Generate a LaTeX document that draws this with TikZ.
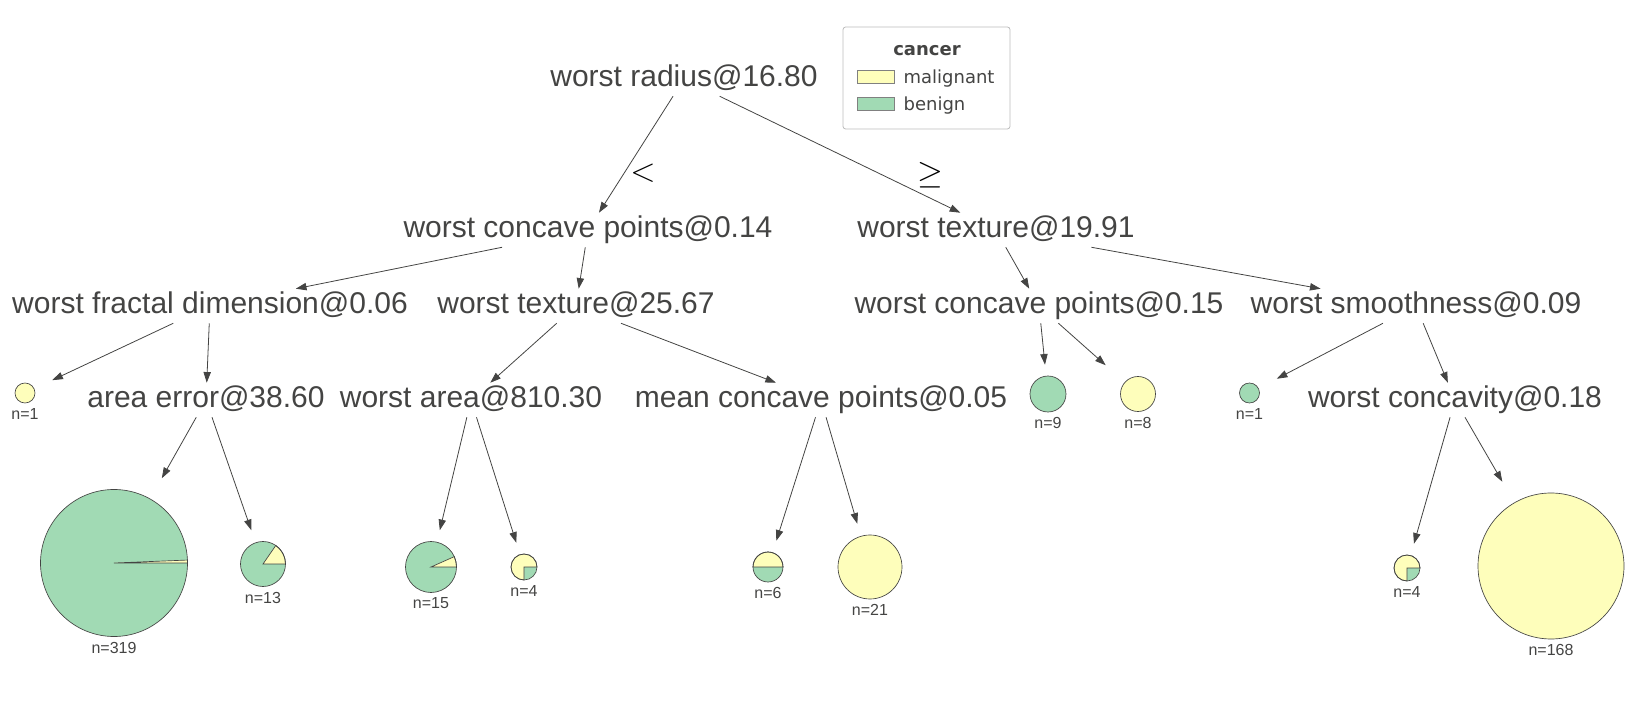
\documentclass[tikz,border=0pt]{standalone}
\usepackage{fontspec}
\setmainfont{Liberation Sans}
\newfontfamily\legendfont{DejaVu Sans}
\usepackage{xcolor}
\usepackage{tikz}
\usetikzlibrary{arrows.meta, positioning}

\definecolor{malig}{HTML}{FEFEBB}
\definecolor{benign}{HTML}{A1DAB4}
\definecolor{inkgray}{HTML}{444443}
\definecolor{framegray}{HTML}{BDBDBD}

\tikzset{
  splitnode/.style={font=\fontsize{22.5}{27}\selectfont, text=inkgray, anchor=base,
    text height=16.5pt, text depth=4.5pt, inner xsep=2pt, inner ysep=2.25pt},
  arrow/.style={draw=inkgray, line width=0.6pt, -{Triangle[length=8pt, width=5.5pt]}},
  leafbox/.style={draw=none, inner sep=0pt},
  pieline/.style={draw=inkgray, line width=0.5pt},
  nlabel/.style={font=\fontsize{12}{14}\selectfont, text=inkgray, inner sep=1pt},
  rellabel/.style={font=\fontsize{23}{27}\selectfont, inner sep=0pt},
  swatch/.style={draw=gray, line width=0.5pt, inner sep=0pt, minimum width=27.75pt, minimum height=9.75pt},
  legtext/.style={font=\legendfont\fontsize{13.5}{16}\selectfont, text=inkgray, inner sep=0pt}
}

% leaf: name, position, radius, base colour, yellow angle, count
\newcommand{\leaf}[6]{%
  \node[leafbox, minimum width={(2*#3+34)*0.75pt}, minimum height={(2*#3+22)*0.75pt}] (#1) at #2 {};
  \begin{scope}[shift={(#1.center)}, yscale=-1]
    \fill[#4] (0,0) circle[radius=#3];
    \ifdim#5pt>0pt
      \filldraw[fill=malig, pieline] (0,0) -- (#3,0) arc[start angle=0, end angle=#5, radius=#3] -- cycle;
    \fi
    \draw[pieline] (0,0) circle[radius=#3];
  \end{scope}
  \node[nlabel] (#1-n) at ([yshift={-(#3+11)*0.75pt}]#1.center) {#6};
}

\begin{document}
\begin{tikzpicture}[x=0.75pt, y=-0.75pt]
\useasboundingbox (0,0) rectangle (1647,705);

% Split nodes
\node[splitnode] (root) at (684,87) {worst radius@16.80};
\node[splitnode] (wcp14) at (588,238) {worst concave points@0.14};
\node[splitnode] (wtx19) at (996,238) {worst texture@19.91};
\node[splitnode] (wfd06) at (210,314) {worst fractal dimension@0.06};
\node[splitnode] (wtx25) at (576,314) {worst texture@25.67};
\node[splitnode] (wcp15) at (1039,314) {worst concave points@0.15};
\node[splitnode] (wsm09) at (1416,314) {worst smoothness@0.09};
\node[splitnode] (ae38) at (206,408) {area error@38.60};
\node[splitnode] (wa810) at (471,408) {worst area@810.30};
\node[splitnode] (mcp05) at (821,408) {mean concave points@0.05};
\node[splitnode] (wcv18) at (1455,408) {worst concavity@0.18};

% Leaves
\leaf{lf1a}{(25,393)}{10}{malig}{0}{n=1}
\leaf{lf319}{(114,563)}{73.5}{benign}{2.3}{n=319}
\leaf{lf13}{(263,564)}{22.5}{benign}{55.4}{n=13}
\leaf{lf15}{(431,567)}{25.5}{benign}{24}{n=15}
\leaf{lf4a}{(524,567)}{13}{benign}{270}{n=4}
\leaf{lf6}{(768,567)}{15}{benign}{180}{n=6}
\leaf{lf21}{(870,567)}{32}{malig}{0}{n=21}
\leaf{lf9}{(1048,394)}{18}{benign}{0}{n=9}
\leaf{lf8}{(1138,394)}{17.5}{malig}{0}{n=8}
\leaf{lf1b}{(1249.5,393)}{10}{benign}{0}{n=1}
\leaf{lf4b}{(1407,568)}{13}{benign}{270}{n=4}
\leaf{lf168}{(1551,566)}{73}{malig}{0}{n=168}

% Edges
\draw[arrow] (root) -- (wcp14);
\draw[arrow] (root) -- (wtx19);
\draw[arrow] (wcp14) -- (wfd06);
\draw[arrow] (wcp14) -- (wtx25);
\draw[arrow] (wtx19) -- (wcp15);
\draw[arrow] (wtx19) -- (wsm09);
\draw[arrow] (wfd06) -- (lf1a);
\draw[arrow] (wfd06) -- (ae38);
\draw[arrow] (wtx25) -- (wa810);
\draw[arrow] (wtx25) -- (mcp05);
\draw[arrow] (wcp15) -- (lf9);
\draw[arrow] (wcp15) -- (lf8);
\draw[arrow] (wsm09) -- (lf1b);
\draw[arrow] (wsm09) -- (wcv18);
\draw[arrow] (ae38) -- (lf319);
\draw[arrow] (ae38) -- (lf13);
\draw[arrow] (wa810) -- (lf15);
\draw[arrow] (wa810) -- (lf4a);
\draw[arrow] (mcp05) -- (lf6);
\draw[arrow] (mcp05) -- (lf21);
\draw[arrow] (wcv18) -- (lf4b);
\draw[arrow] (wcv18) -- (lf168);

% Split labels
\node[rellabel] (lt) at (643,173) {$<$};
\node[rellabel] (ge) at (930.5,175.5) {$\geq$};

% Legend
\node[draw=framegray, line width=0.6pt, rounded corners=2pt, fill=white, inner sep=0pt,
  minimum width=125.25pt, minimum height=76.5pt] (legend) at (926.5,78) {};
\node[legtext, font=\legendfont\bfseries\fontsize{13.5}{16}\selectfont, anchor=base] (legtitle) at (927,56) {cancer};
\node[swatch, fill=malig] (swmal) at (875.5,76.5) {};
\node[swatch, fill=benign] (swben) at (875.5,104) {};
\node[legtext, anchor=base west] (txmal) at ([xshift=6.75pt]swmal.south east) {malignant};
\node[legtext, anchor=base west] (txben) at ([xshift=6.75pt]swben.south east) {benign};
\end{tikzpicture}
\end{document}
